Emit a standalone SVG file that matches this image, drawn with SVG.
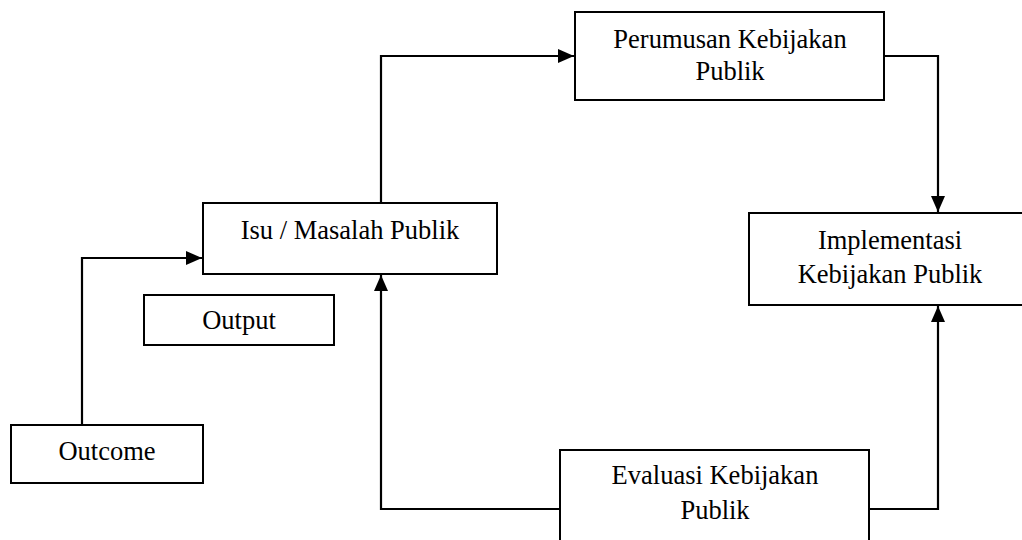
<svg xmlns="http://www.w3.org/2000/svg" width="1022" height="540" viewBox="0 0 1022 540">
<style>
.box{fill:#fff;stroke:#000;stroke-width:2}
.lbl{font-family:"Liberation Serif","Times New Roman",serif;font-size:26.5px;fill:#000;text-anchor:middle}
.conn{fill:none;stroke:#000;stroke-width:2.2}
</style>
<defs>
<marker id="arr" markerUnits="userSpaceOnUse" markerWidth="16" markerHeight="16" viewBox="0 0 16 14" refX="16" refY="7" orient="auto">
<path d="M0,0 L16,7 L0,14 Z" fill="#000"/>
</marker>
</defs>
<rect width="1022" height="540" fill="#fff"/>
<g id="connectors">
<path class="conn" d="M82,425 V258 H202" marker-end="url(#arr)"/>
<path class="conn" d="M381,203 V56 H574" marker-end="url(#arr)"/>
<path class="conn" d="M884,56 H938 V212" marker-end="url(#arr)"/>
<path class="conn" d="M869,509 H938 V306" marker-end="url(#arr)"/>
<path class="conn" d="M560,509 H381 V275" marker-end="url(#arr)"/>
</g>
<g id="isu">
<rect class="box" x="203" y="203" width="294" height="71"/>
<text class="lbl" x="350" y="239">Isu / Masalah Publik</text>
</g>
<g id="perumusan">
<rect class="box" x="575" y="12" width="309" height="88"/>
<text class="lbl" x="730" y="48">Perumusan Kebijakan</text>
<text class="lbl" x="730" y="80">Publik</text>
</g>
<g id="implementasi">
<rect class="box" x="749" y="213" width="290" height="92"/>
<text class="lbl" x="890" y="249">Implementasi</text>
<text class="lbl" x="890" y="283">Kebijakan Publik</text>
</g>
<g id="evaluasi">
<rect class="box" x="560" y="450" width="309" height="100"/>
<text class="lbl" x="715" y="484">Evaluasi Kebijakan</text>
<text class="lbl" x="715" y="519">Publik</text>
</g>
<g id="output">
<rect class="box" x="144" y="295" width="190" height="50"/>
<text class="lbl" x="239" y="329">Output</text>
</g>
<g id="outcome">
<rect class="box" x="11" y="425" width="192" height="58"/>
<text class="lbl" x="107" y="460">Outcome</text>
</g>
</svg>
